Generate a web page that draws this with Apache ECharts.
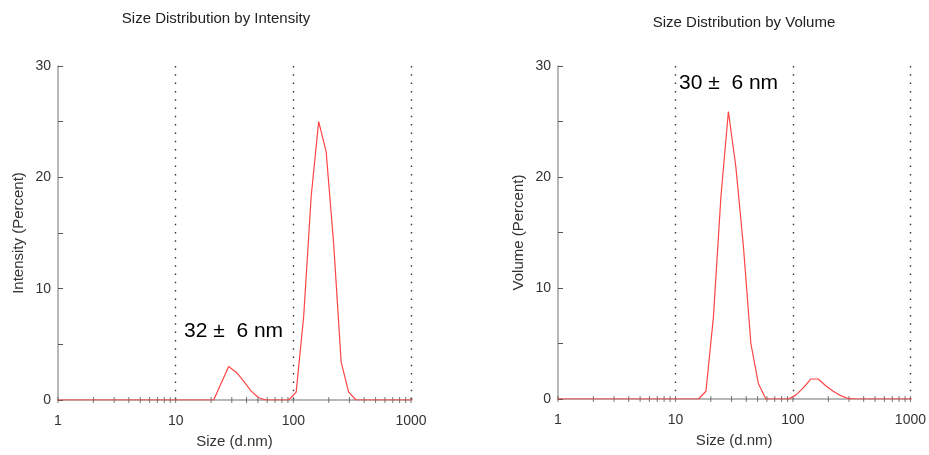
<!DOCTYPE html>
<html>
<head>
<meta charset="utf-8">
<script src="https://cdn.jsdelivr.net/npm/echarts@6/dist/echarts.min.js"></script>
<style>
  html, body { margin: 0; padding: 0; background: #fff; }
  #chart { width: 929px; height: 455px; }
</style>
</head>
<body>
<div id="chart"></div>
<script>
// size bins (d.nm), Zetasizer log-spaced
var sizes = [0.9649, 1.117, 1.294, 1.499, 1.736, 2.010, 2.328, 2.696, 3.122, 3.615,
  4.187, 4.849, 5.615, 6.503, 7.531, 8.721, 10.10, 11.70, 13.54, 15.69,
  18.17, 21.04, 24.36, 28.21, 32.67, 37.84, 43.82, 50.75, 58.77, 68.06,
  78.82, 91.28, 105.7, 122.4, 141.8, 164.2, 190.1, 220.2, 255.0, 295.3,
  342.0, 396.1, 458.7, 531.2, 615.1, 712.4, 825.0, 955.4, 1106];

var intensity = [0, 0, 0, 0, 0, 0, 0, 0, 0, 0,
  0, 0, 0, 0, 0, 0, 0, 0, 0, 0,
  0, 0, 1.5, 3.0, 2.5, 1.7, 0.8, 0.2, 0, 0,
  0, 0, 0.7, 7.5, 18.3, 25.0, 22.3, 14.0, 3.4, 0.7,
  0, 0, 0, 0, 0, 0, 0, 0, 0];

var volume = [0, 0, 0, 0, 0, 0, 0, 0, 0, 0,
  0, 0, 0, 0, 0, 0, 0, 0, 0, 0,
  0.7, 7.4, 18.2, 25.9, 20.9, 13.8, 5.0, 1.4, 0, 0,
  0, 0, 0.35, 1.0, 1.8, 1.8, 1.2, 0.7, 0.3, 0.05,
  0, 0, 0, 0, 0, 0, 0, 0, 0];

// x tick positions (log axis, 1..9 per decade)
var xTicks = [1, 2, 3, 4, 5, 6, 7, 8, 9, 10, 20, 30, 40, 50, 60, 70, 80, 90,
  100, 200, 300, 400, 500, 600, 700, 800, 900, 1000];

var titles = ['Size Distribution by Intensity', 'Size Distribution by Volume'];
var yNames = ['Intensity (Percent)', 'Volume (Percent)'];
var peakLabels = ['32 \u00b1  6 nm', '30 \u00b1  6 nm'];

var font = 'Liberation Sans, Arial, sans-serif';
var axisGrey = '#a0a0a0';

function pairs(ys) {
  return sizes.map(function (s, i) { return [s, ys[i]]; });
}

function xAxisOpt(idx) {
  return {
    type: 'log', logBase: 10, gridIndex: idx, min: 1, max: 1000,
    name: 'Size (d.nm)', nameLocation: 'middle', nameGap: 34,
    nameTextStyle: { fontFamily: font, fontSize: 15, color: '#333' },
    axisLine: { lineStyle: { color: axisGrey, width: 1.5 } },
    axisTick: { show: false },
    axisLabel: {
      margin: 14, fontFamily: font, fontSize: 14, color: '#333',
      formatter: function (v) { return String(Math.round(v)); }
    },
    splitLine: {
      show: true, showMinLine: false, showMaxLine: true,
      lineStyle: { color: '#333', type: [1.5, 6.8], width: 1.4 }
    }
  };
}

function yAxisOpt(idx) {
  return {
    type: 'value', gridIndex: idx, min: 0, max: 30, interval: 10,
    name: yNames[idx], nameLocation: 'middle', nameGap: 32,
    nameTextStyle: { fontFamily: font, fontSize: 15, color: '#333' },
    axisLine: { show: true, lineStyle: { color: axisGrey, width: 1.5 } },
    axisTick: { show: true, inside: true, length: 5, lineStyle: { color: '#555' } },
    minorTick: { show: true, splitNumber: 2, length: 5, lineStyle: { color: '#555' } },
    axisLabel: { margin: 7, fontFamily: font, fontSize: 14, color: '#333' },
    splitLine: { show: false }
  };
}

function tickSeries(idx) {
  return {
    type: 'scatter', xAxisIndex: idx, yAxisIndex: idx, silent: true,
    symbol: 'rect', symbolSize: [1, 6], z: 1,
    itemStyle: { color: '#555' },
    data: xTicks.map(function (t) { return [t, 0]; })
  };
}

function lineSeries(idx, ys) {
  return {
    type: 'line', xAxisIndex: idx, yAxisIndex: idx, data: pairs(ys),
    showSymbol: false, clip: true, z: 3,
    lineStyle: { color: '#ff4444', width: 1.2 }
  };
}

var chart = echarts.init(document.getElementById('chart'), null, { renderer: 'canvas' });

chart.setOption({
  animation: false,
  grid: [
    { left: 58, top: 66, width: 353, height: 334 },
    { left: 558, top: 66, width: 354, height: 333 }
  ],
  xAxis: [xAxisOpt(0), xAxisOpt(1)],
  yAxis: [yAxisOpt(0), yAxisOpt(1)],
  series: [
    tickSeries(0), tickSeries(1),
    lineSeries(0, intensity), lineSeries(1, volume)
  ],
  graphic: [
    { type: 'text', x: 216, y: 19, style: { text: titles[0], align: 'center', verticalAlign: 'middle', font: '15px ' + font, fill: '#222' } },
    { type: 'text', x: 744, y: 23, style: { text: titles[1], align: 'center', verticalAlign: 'middle', font: '15px ' + font, fill: '#222' } },
    { type: 'text', x: 184, y: 331, style: { text: peakLabels[0], align: 'left', verticalAlign: 'middle', font: '21px ' + font, fill: '#000' } },
    { type: 'text', x: 679, y: 83, style: { text: peakLabels[1], align: 'left', verticalAlign: 'middle', font: '21px ' + font, fill: '#000' } }
  ]
});
</script>
</body>
</html>
